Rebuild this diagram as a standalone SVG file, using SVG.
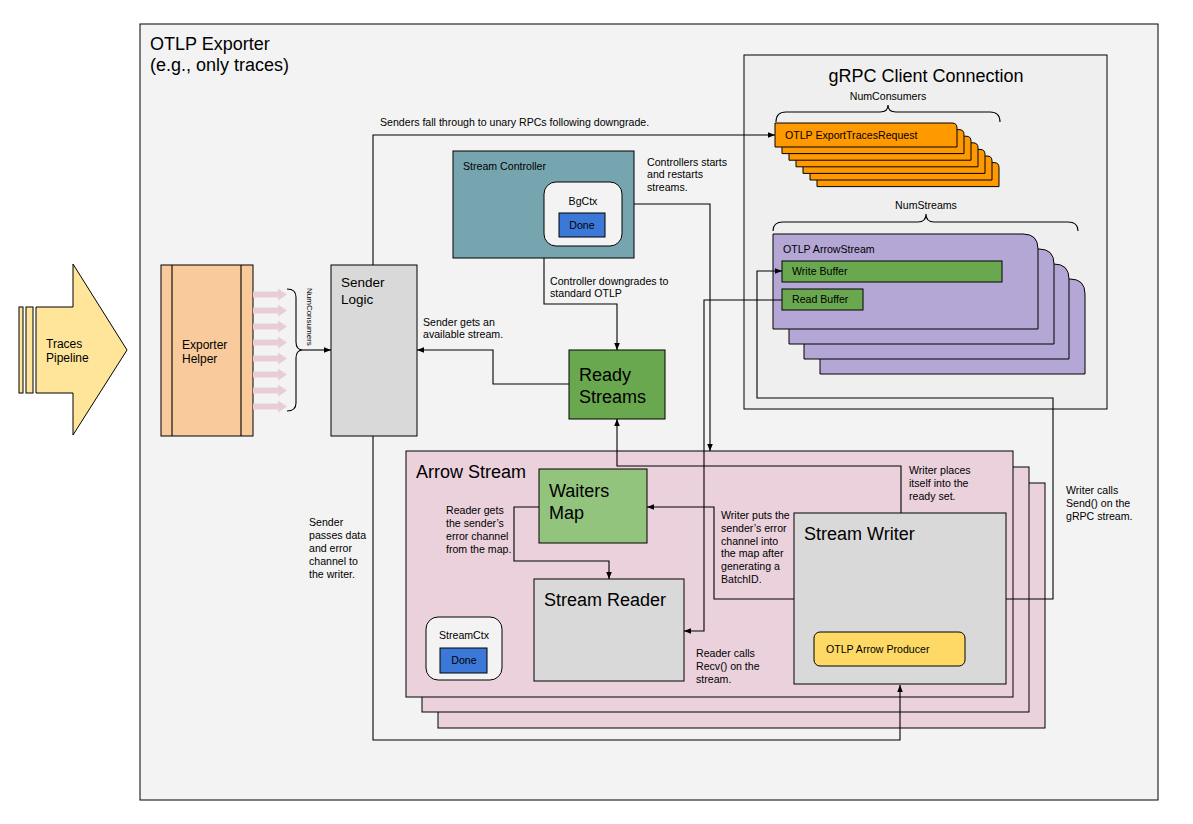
<svg xmlns="http://www.w3.org/2000/svg" width="1193" height="824" viewBox="0 0 1193 824">
<defs>
<marker id="ah" viewBox="0 0 10 10" refX="10" refY="5" markerWidth="7" markerHeight="7" orient="auto" markerUnits="userSpaceOnUse"><path d="M0,1 L10,5 L0,9 z" fill="#000"/></marker>
<style>
text{font-family:"Liberation Sans",Arial,sans-serif;fill:#000}
.s{font-size:10.6px}
.m{font-size:12px}
.b{font-size:18px}
.box{stroke:#000;stroke-width:1}
.ln{fill:none;stroke:#000;stroke-width:1.1}
.ar{fill:none;stroke:#000;stroke-width:1.1;marker-end:url(#ah)}
.pk{fill:#e8cdd9}
</style>
</defs>
<rect width="1193" height="824" fill="#fff"/>

<g id="otlp-exporter">
<rect class="box" x="140" y="24" width="1018" height="776" fill="#f3f3f3"/>
<text x="150" y="50" style="font-size:18px">OTLP Exporter</text>
<text x="150" y="71" style="font-size:18px">(e.g., only traces)</text>
</g>

<g id="traces-pipeline">
<rect class="box" x="19" y="307" width="4" height="86" fill="#ffe599"/>
<rect class="box" x="26" y="307" width="7" height="86" fill="#ffe599"/>
<polygon class="box" points="36,307 73,307 73,264 127,350 73,435 73,393 36,393" fill="#ffe599"/>
<text class="m" x="46" y="348">Traces</text>
<text class="m" x="46" y="362">Pipeline</text>
</g>

<g id="exporter-helper">
<rect class="box" x="161" y="265" width="92" height="171" fill="#f9cb9c"/>
<line class="ln" x1="172" y1="265" x2="172" y2="436"/>
<line class="ln" x1="241" y1="265" x2="241" y2="436"/>
<text class="m" x="182" y="349">Exporter</text>
<text class="m" x="182" y="363">Helper</text>
</g>

<g id="consumer-arrows">
<polygon class="pk" points="253,291.5 278,291.5 278,288.5 287,294.5 278,300.5 278,297.5 253,297.5"/>
<polygon class="pk" points="253,307.5 278,307.5 278,304.5 287,310.5 278,316.5 278,313.5 253,313.5"/>
<polygon class="pk" points="253,323.5 278,323.5 278,320.5 287,326.5 278,332.5 278,329.5 253,329.5"/>
<polygon class="pk" points="253,339.5 278,339.5 278,336.5 287,342.5 278,348.5 278,345.5 253,345.5"/>
<polygon class="pk" points="253,355.5 278,355.5 278,352.5 287,358.5 278,364.5 278,361.5 253,361.5"/>
<polygon class="pk" points="253,371.5 278,371.5 278,368.5 287,374.5 278,380.5 278,377.5 253,377.5"/>
<polygon class="pk" points="253,387.5 278,387.5 278,384.5 287,390.5 278,396.5 278,393.5 253,393.5"/>
<polygon class="pk" points="253,403.5 278,403.5 278,400.5 287,406.5 278,412.5 278,409.5 253,409.5"/>
<path class="ln" d="M287,289 C293,289 296,291 296,297 L296,342 C296,348 299,350 303,350 C299,350 296,352 296,358 L296,403 C296,409 293,411 287,411"/>
<text transform="translate(307,288) rotate(90)" style="font-size:8px">NumConsumers</text>
</g>

<g id="sender-logic">
<rect class="box" x="331" y="265" width="86" height="171" fill="#d9d9d9"/>
<text x="341" y="287" style="font-size:13.5px">Sender</text>
<text x="341" y="304" style="font-size:13.5px">Logic</text>
</g>

<g id="stream-controller">
<rect class="box" x="453" y="151" width="181" height="107" fill="#76a5af"/>
<text class="s" x="463" y="170">Stream Controller</text>
<rect class="box" x="544" y="182" width="78" height="64" rx="12" fill="#f3f3f3"/>
<text class="s" x="583" y="205" text-anchor="middle">BgCtx</text>
<rect class="box" x="559" y="213" width="46" height="24" fill="#3c78d8"/>
<text class="s" x="582" y="229" text-anchor="middle">Done</text>
</g>

<g id="grpc-client-connection">
<rect class="box" x="744" y="55" width="363" height="354" fill="#efefef"/>
<text class="b" x="926" y="82" text-anchor="middle">gRPC Client Connection</text>
<text class="s" x="888" y="100" text-anchor="middle">NumConsumers</text>
<path class="ln" d="M776,122 C776,115 779,112 786,112 L880,112 C886,112 888,109 888,105 C888,109 890,112 896,112 L990,112 C997,112 1000,115 1000,122"/>
<text class="s" x="926" y="209" text-anchor="middle">NumStreams</text>
<path class="ln" d="M773,231 C773,225 776,222 783,222 L918,222 C924,222 926,219 926,214 C926,219 928,222 934,222 L1068,222 C1075,222 1078,225 1078,231"/>
</g>

<g id="export-traces-request">
<path class="box" fill="#ff9900" d="M817,162.6 h177 q5,0 5,5 v19 h-182 z"/>
<path class="box" fill="#ff9900" d="M810,156 h177 q5,0 5,5 v19 h-182 z"/>
<path class="box" fill="#ff9900" d="M803,149.4 h177 q5,0 5,5 v19 h-182 z"/>
<path class="box" fill="#ff9900" d="M796,142.8 h177 q5,0 5,5 v19 h-182 z"/>
<path class="box" fill="#ff9900" d="M789,136.2 h177 q5,0 5,5 v19 h-182 z"/>
<path class="box" fill="#ff9900" d="M782,129.6 h177 q5,0 5,5 v19 h-182 z"/>
<path class="box" fill="#ff9900" d="M775,123 h177 q5,0 5,5 v19 h-182 z"/>
<text class="s" x="785" y="139">OTLP ExportTracesRequest</text>
</g>

<g id="otlp-arrowstream">
<path class="box" fill="#b4a7d6" d="M820,279 h250 q15,0 15,15 v80 h-265 z"/>
<path class="box" fill="#b4a7d6" d="M804,264 h250 q15,0 15,15 v80 h-265 z"/>
<path class="box" fill="#b4a7d6" d="M789,249 h250 q15,0 15,15 v80 h-265 z"/>
<path class="box" fill="#b4a7d6" d="M773,234 h250 q15,0 15,15 v80 h-265 z"/>
<text class="s" x="783" y="253">OTLP ArrowStream</text>
</g>

<g id="write-buffer">
<rect class="box" x="782" y="261" width="220" height="21" fill="#6aa84f"/>
<text class="s" x="792" y="275">Write Buffer</text>
</g>

<g id="read-buffer">
<rect class="box" x="782" y="289" width="81" height="21" fill="#6aa84f"/>
<text class="s" x="792" y="303">Read Buffer</text>
</g>

<g id="ready-streams">
<rect class="box" x="569" y="350" width="96" height="69" fill="#6aa84f"/>
<text class="b" x="579" y="381">Ready</text>
<text class="b" x="579" y="403">Streams</text>
</g>

<g id="arrow-stream">
<rect class="box" x="438" y="483" width="607" height="245" fill="#ead1dc"/>
<rect class="box" x="422" y="467" width="607" height="245" fill="#ead1dc"/>
<rect class="box" x="406" y="451" width="607" height="246" fill="#ead1dc"/>
<text class="b" x="416" y="478">Arrow Stream</text>
</g>

<g id="waiters-map">
<rect class="box" x="539" y="469" width="108" height="74" fill="#93c47d"/>
<text class="b" x="549" y="497">Waiters</text>
<text class="b" x="549" y="519">Map</text>
</g>

<g id="stream-reader">
<rect class="box" x="534" y="579" width="150" height="102" fill="#d9d9d9"/>
<text class="b" x="544" y="606">Stream Reader</text>
</g>

<g id="stream-ctx">
<rect class="box" x="426" y="617" width="76" height="63" rx="12" fill="#f3f3f3"/>
<text class="s" x="464" y="639" text-anchor="middle">StreamCtx</text>
<rect class="box" x="440" y="648" width="47" height="25" fill="#3c78d8"/>
<text class="s" x="464" y="664" text-anchor="middle">Done</text>
</g>

<g id="stream-writer">
<rect class="box" x="794" y="513" width="212" height="171" fill="#d9d9d9"/>
<text class="b" x="804" y="540">Stream Writer</text>
<rect class="box" x="814" y="632" width="151" height="34" rx="6" fill="#ffd966"/>
<text class="s" x="826" y="653">OTLP Arrow Producer</text>
</g>

<g id="connectors">
<path class="ar" d="M303,350 L331,350"/>
<path class="ar" d="M373,265 L373,135 L775,135"/>
<path class="ar" d="M373,436 L373,740 L900,740 L900,685"/>
<path class="ar" d="M634,204 L710,204 L710,451"/>
<path class="ar" d="M544,258 L544,304 L617,304 L617,350"/>
<path class="ar" d="M569,384 L493,384 L493,350 L417,350"/>
<path class="ar" d="M901,513 L901,466 L617,466 L617,419"/>
<path class="ar" d="M794,599 L714,599 L714,507 L647,507"/>
<path class="ar" d="M539,507 L514,507 L514,561 L609,561 L609,579"/>
<path class="ar" d="M782,300 L704,300 L704,631 L684,631"/>
<path class="ar" d="M1006,599 L1053,599 L1053,398 L757,398 L757,271 L782,271"/>
</g>

<g id="labels">
<text class="s" x="380" y="126">Senders fall through to unary RPCs following downgrade.</text>
<text class="s" x="647" y="166">Controllers starts</text>
<text class="s" x="647" y="178">and restarts</text>
<text class="s" x="647" y="191">streams.</text>
<text class="s" x="550" y="285">Controller downgrades to</text>
<text class="s" x="550" y="297">standard OTLP</text>
<text class="s" x="423" y="326">Sender gets an</text>
<text class="s" x="423" y="338">available stream.</text>
<text class="s" x="309" y="526">Sender</text>
<text class="s" x="309" y="539">passes data</text>
<text class="s" x="309" y="552">and error</text>
<text class="s" x="309" y="565">channel to</text>
<text class="s" x="309" y="578">the writer.</text>
<text class="s" x="446" y="514">Reader gets</text>
<text class="s" x="446" y="527">the sender’s</text>
<text class="s" x="446" y="540">error channel</text>
<text class="s" x="446" y="553">from the map.</text>
<text class="s" x="909" y="474">Writer places</text>
<text class="s" x="909" y="487">itself into the</text>
<text class="s" x="909" y="500">ready set.</text>
<text class="s" x="721" y="519">Writer puts the</text>
<text class="s" x="721" y="532">sender’s error</text>
<text class="s" x="721" y="545">channel into</text>
<text class="s" x="721" y="557">the map after</text>
<text class="s" x="721" y="570">generating a</text>
<text class="s" x="721" y="583">BatchID.</text>
<text class="s" x="696" y="657">Reader calls</text>
<text class="s" x="696" y="670">Recv() on the</text>
<text class="s" x="696" y="683">stream.</text>
<text class="s" x="1066" y="494">Writer calls</text>
<text class="s" x="1066" y="507">Send() on the</text>
<text class="s" x="1066" y="520">gRPC stream.</text>
</g>
</svg>
